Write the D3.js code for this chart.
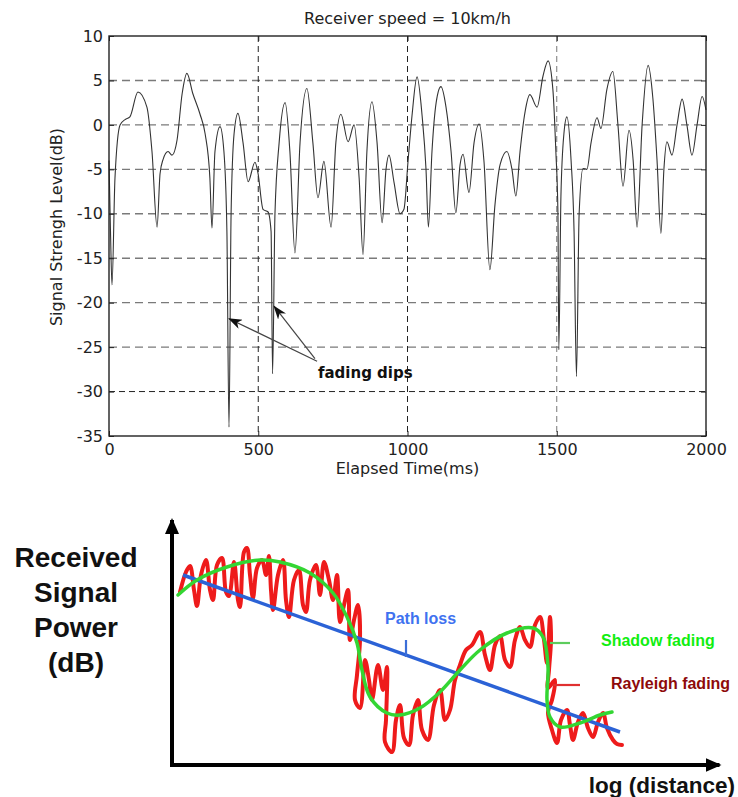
<!DOCTYPE html>
<html>
<head>
<meta charset="utf-8">
<script src="https://cdn.jsdelivr.net/npm/d3@7"></script>
<style>
  body { margin: 0; background: #fff; }
  svg { display: block; font-family: "Liberation Sans", Arial, sans-serif; }
</style>
</head>
<body>
<div class="chart-container"></div>
<script>
// top chart: measured signal level vs elapsed time
var times = [0, 5, 10, 20, 37, 54, 70, 97, 127, 144, 161, 171, 181, 198, 211, 228, 245, 261, 281, 305,
    322, 338, 345, 355, 372, 385, 395, 402, 409, 419, 432, 449, 466, 489, 499, 516, 533, 543, 548, 556,
    570, 590, 606, 623, 640, 663, 683, 700, 720, 744, 760, 777, 801, 821, 838, 851, 864, 881, 898, 915,
    928, 938, 955, 975, 988, 1002, 1015, 1032, 1049, 1062, 1070, 1082, 1096, 1112, 1129, 1146, 1162, 1176, 1186, 1206,
    1223, 1240, 1256, 1276, 1293, 1310, 1333, 1350, 1363, 1377, 1394, 1410, 1434, 1454, 1471, 1487, 1497, 1504, 1507, 1514,
    1524, 1534, 1548, 1558, 1566, 1575, 1588, 1601, 1615, 1635, 1648, 1668, 1688, 1705, 1722, 1742, 1756, 1769, 1786, 1806,
    1822, 1836, 1849, 1859, 1869, 1886, 1903, 1920, 1936, 1953, 1970, 1987, 2000];
var levels = [-4, -12, -18, -6, 0, 0.6, 0.9, 3.7, 2, -3, -11.5, -5.5, -3.9, -3.0, -3.4, -1.7, 3.5, 5.8, 3.5, 1.2,
    -1, -6, -11.6, -3, -0.2, -3, -12, -34, -10, -1, 1.3, -2, -6.4, -4.2, -5.4, -9.5, -9.8, -12, -28, -10,
    -2, 2.5, -3, -14.4, -2, 4.1, -2, -8.2, -4.1, -11.5, -2, 1.2, -1.9, 0, -6, -14.6, -3, 2.6, -2, -11,
    -5, -3.4, -6.5, -10, -9.5, -4, 1, 5.4, 1, -5, -11.5, -3, 2.5, 4.3, 2, -3, -9.9, -4.5, -3.3, -7.6,
    -2, 0.1, -4, -16.3, -9, -4.5, -3, -5, -8, -3, 1.5, 3.4, 2.0, 5.5, 7.2, 4, -3, -10, -25.3, -8,
    -1, 0.9, -4, -12, -28.3, -10, -4.9, -5, -2, 0.8, -0.4, 4, 6.0, 0, -6.9, -0.6, -4, -11.5, 0, 6.7,
    3, -4, -12.2, -5, -1.9, -3.4, 0, 2.9, 0, -3.4, 0, 3.2, 1.7];
var xTicks = [0, 500, 1000, 1500, 2000];
var yTicks = [10, 5, 0, -5, -10, -15, -20, -25, -30, -35];

// bottom schematic (arbitrary units: log distance 0..110, power 0..49)
var pathLoss = [[2.2, 38], [89.6, 6.6]];
var shadow = [[1.2, 34], [5, 37], [11, 39.6], [17.6, 41], [21.6, 40.6], [27.6, 38.4], [32.2, 34.4], [35, 29.6],
    [37, 24.4], [38, 19], [39.6, 13.6], [43, 10.4], [45.6, 10], [49.6, 11.4], [53.6, 14.6], [57.6, 19],
    [61.6, 23], [67, 26.4], [72.2, 27.4], [74.2, 25.6], [75.2, 19.6], [75, 13], [75.6, 9.6], [77.6, 7.6],
    [81.6, 8.4], [85.6, 10], [88, 10.6]];
var rayleigh = [[1.6, 34.6], [2.8, 38.6], [3.6, 39.8], [4.4, 35], [5, 31.8], [5.8, 38], [6.8, 41], [7.6, 35],
    [8.2, 33], [9, 40], [10, 41.4], [10.8, 34.6], [11.4, 33.8], [12.4, 40.6], [13.2, 33], [13.6, 31.6],
    [14.4, 42.6], [15, 43.4], [15.6, 38], [16.2, 33.4], [17, 39.4], [18, 41], [18.8, 38], [19.4, 41.8],
    [19.8, 35], [20.2, 31], [21.2, 38], [22.2, 41], [22.8, 33], [23.4, 29.6], [24.4, 37], [25.4, 39],
    [26.2, 32], [26.8, 30.6], [27.6, 37], [28.8, 40], [29.6, 34], [30.4, 40.6], [31.4, 37], [32.2, 33],
    [33, 38], [33.6, 28.6], [34.4, 32], [35.2, 35], [35.6, 25], [36.4, 29], [37.2, 32], [37.6, 25],
    [37, 18], [36.6, 13], [37.6, 11.4], [38.6, 21], [39.4, 17], [40, 13], [41.2, 20], [42.2, 15],
    [43, 19.6], [42.8, 9], [42.6, 4.6], [44, 2.6], [44.8, 9], [45.6, 12], [46.4, 5.4], [47.4, 4],
    [48.2, 10], [49.2, 13], [50, 7], [51.2, 5], [52.4, 12], [53.6, 15], [54.6, 9], [55.6, 11],
    [56.6, 17], [57.6, 20], [58.8, 23], [60, 24], [61.6, 26.6], [62.6, 22], [63.6, 19], [64.6, 24],
    [65.6, 25.8], [66.6, 21], [67.6, 19.6], [68.6, 25], [69.6, 27.6], [70.6, 25], [71.6, 23.6], [72.6, 28],
    [73.6, 29.6], [74.4, 25], [75, 20.4], [75.6, 29.6], [75.8, 25], [75.4, 19], [75.2, 15.4], [76.6, 17],
    [76, 13], [75.2, 10.6], [76, 7], [77, 4.4], [77.8, 9], [79, 11], [79.6, 8], [80.2, 5],
    [81.2, 8.6], [82.2, 10.4], [83.2, 7.4], [84.2, 5.6], [85.2, 8.6], [86.2, 10.4], [87, 7.4], [88.2, 5],
    [89, 4.2], [90, 4]];

draw();

function draw() {
    var svg = d3.select('.chart-container').append('svg')
        .attr('width', 738)
        .attr('height', 797);

    var defs = svg.append('defs');
    defs.append('marker')
        .attr('id', 'dipArrow')
        .attr('markerUnits', 'userSpaceOnUse')
        .attr('viewBox', '0 0 14 10')
        .attr('refX', 13).attr('refY', 5)
        .attr('markerWidth', 14).attr('markerHeight', 10)
        .attr('orient', 'auto')
        .append('path').attr('d', 'M0,0 L14,5 L0,10 L4,5 z').attr('fill', '#111');
    defs.append('marker')
        .attr('id', 'axisArrow')
        .attr('markerUnits', 'userSpaceOnUse')
        .attr('viewBox', '0 0 16 14')
        .attr('refX', 14).attr('refY', 7)
        .attr('markerWidth', 16).attr('markerHeight', 14)
        .attr('orient', 'auto')
        .append('path').attr('d', 'M0,0 L16,7 L0,14 z').attr('fill', '#000');

    /* ---------- top: signal strength vs time ---------- */
    var x = d3.scaleLinear().domain([0, 2000]).range([109, 706]);
    var y = d3.scaleLinear().domain([-35, 10]).range([436, 36]);
    var top = svg.append('g').attr('font-family', '"DejaVu Sans", sans-serif');
    var plain = function (d) { return String(d); }; // keep ascii minus, no thousands comma

    // horizontal dashed grid
    top.selectAll('.hgrid')
        .data(yTicks.filter(function (d) { return d > -35 && d < 10; }))
        .enter().append('line')
        .attr('x1', x(0)).attr('x2', x(2000))
        .attr('y1', function (d) { return y(d); })
        .attr('y2', function (d) { return y(d); })
        .attr('stroke', function (d) { return d === -30 ? '#222' : '#7a7a7a'; })
        .attr('stroke-width', function (d) { return d === -30 ? 1 : 1.4; })
        .attr('stroke-dasharray', function (d) { return d === -30 ? '6,4' : '8,5'; });

    // vertical dashed grid
    top.selectAll('.vgrid')
        .data(xTicks.filter(function (d) { return d > 0 && d < 2000; }))
        .enter().append('line')
        .attr('y1', y(10)).attr('y2', y(-35))
        .attr('x1', function (d) { return x(d); })
        .attr('x2', function (d) { return x(d); })
        .attr('stroke', function (d) { return d === 1500 ? '#777' : '#222'; })
        .attr('stroke-width', 1)
        .attr('stroke-dasharray', '6,4');

    // signal trace
    var line = d3.line()
        .x(function (d, i) { return x(times[i]); })
        .y(function (d) { return y(d); })
        .curve(d3.curveMonotoneX);
    top.append('path')
        .datum(levels)
        .attr('d', line)
        .attr('fill', 'none')
        .attr('stroke', '#333')
        .attr('stroke-width', 1.1);

    // axes with inward ticks (matlab style)
    var left = top.append('g').attr('transform', 'translate(' + x(0) + ',0)')
        .call(d3.axisLeft(y).tickValues(yTicks).tickFormat(plain).tickSize(-5).tickPadding(6));
    var bottom = top.append('g').attr('transform', 'translate(0,' + y(-35) + ')')
        .call(d3.axisBottom(x).tickValues(xTicks).tickFormat(plain).tickSize(-5).tickPadding(8));
    top.append('g').attr('transform', 'translate(' + x(2000) + ',0)')
        .call(d3.axisRight(y).tickValues(yTicks).tickSize(-5).tickFormat(''));
    top.append('g').attr('transform', 'translate(0,' + y(10) + ')')
        .call(d3.axisTop(x).tickValues(xTicks).tickSize(-5).tickFormat(''));
    top.selectAll('.domain').remove();
    top.selectAll('.tick line').attr('stroke', '#222');
    [left, bottom].forEach(function (g) {
        g.selectAll('text')
            .attr('font-family', '"DejaVu Sans", sans-serif')
            .attr('font-size', 16)
            .attr('fill', '#222');
    });

    top.append('rect')
        .attr('x', x(0)).attr('y', y(10))
        .attr('width', x(2000) - x(0)).attr('height', y(-35) - y(10))
        .attr('fill', 'none')
        .attr('stroke', '#222')
        .attr('stroke-width', 1.4);

    top.append('text')
        .attr('x', (x(0) + x(2000)) / 2).attr('y', 24)
        .attr('text-anchor', 'middle')
        .attr('font-size', 16).attr('fill', '#222')
        .text('Receiver speed = 10km/h');
    top.append('text')
        .attr('x', (x(0) + x(2000)) / 2).attr('y', 474)
        .attr('text-anchor', 'middle')
        .attr('font-size', 16).attr('fill', '#222')
        .text('Elapsed Time(ms)');
    top.append('text')
        .attr('transform', 'translate(62,227) rotate(-90)')
        .attr('text-anchor', 'middle')
        .attr('font-size', 16).attr('fill', '#222')
        .text('Signal Strengh Level(dB)');

    // fading dips annotation
    var arrows = [[[697, -26.6], [402, -21.8]], [[690, -26.3], [553, -20.4]]];
    top.selectAll('.dip-arrow')
        .data(arrows)
        .enter().append('line')
        .attr('x1', function (d) { return x(d[0][0]); })
        .attr('y1', function (d) { return y(d[0][1]); })
        .attr('x2', function (d) { return x(d[1][0]); })
        .attr('y2', function (d) { return y(d[1][1]); })
        .attr('stroke', '#444')
        .attr('stroke-width', 1.2)
        .attr('marker-end', 'url(#dipArrow)');
    top.append('text')
        .attr('x', x(700)).attr('y', y(-28.5))
        .attr('font-size', 15).attr('font-weight', 'bold').attr('fill', '#111')
        .text('fading dips');

    /* ---------- bottom: path loss / shadowing / rayleigh sketch ---------- */
    var sx = d3.scaleLinear().domain([0, 110]).range([172, 722]);
    var sy = d3.scaleLinear().domain([0, 49]).range([765, 520]);
    var sk = svg.append('g');

    var sline = d3.line()
        .x(function (d) { return sx(d[0]); })
        .y(function (d) { return sy(d[1]); });

    sk.append('path')
        .datum(rayleigh)
        .attr('d', sline.curve(d3.curveCatmullRom.alpha(0.5)))
        .attr('fill', 'none')
        .attr('stroke', '#ee1b1b')
        .attr('stroke-width', 4)
        .attr('stroke-linejoin', 'round')
        .attr('stroke-linecap', 'round');
    sk.append('path')
        .datum(pathLoss)
        .attr('d', sline.curve(d3.curveLinear))
        .attr('fill', 'none')
        .attr('stroke', '#2b62d6')
        .attr('stroke-width', 3.5);
    sk.append('path')
        .datum(shadow)
        .attr('d', sline.curve(d3.curveCatmullRom.alpha(0.5)))
        .attr('fill', 'none')
        .attr('stroke', '#33d633')
        .attr('stroke-width', 3.5)
        .attr('stroke-linecap', 'round');

    // axes arrows
    sk.append('line')
        .attr('x1', sx(0)).attr('y1', sy(0) + 2)
        .attr('x2', sx(0)).attr('y2', sy(49))
        .attr('stroke', '#000').attr('stroke-width', 4)
        .attr('marker-end', 'url(#axisArrow)');
    sk.append('line')
        .attr('x1', sx(0) - 2).attr('y1', sy(0))
        .attr('x2', sx(109.5)).attr('y2', sy(0))
        .attr('stroke', '#000').attr('stroke-width', 4)
        .attr('marker-end', 'url(#axisArrow)');

    // leader lines
    var leaders = [
        { p: [[46.8, 25], [46.8, 21.6]], c: '#3b6ed8' },
        { p: [[75.6, 24.4], [79.6, 24.4]], c: '#5ccc5c' },
        { p: [[76.2, 16], [81.6, 16]], c: '#e03030' }
    ];
    sk.selectAll('.leader')
        .data(leaders)
        .enter().append('path')
        .attr('d', function (d) { return sline.curve(d3.curveLinear)(d.p); })
        .attr('stroke', function (d) { return d.c; })
        .attr('stroke-width', 2.2)
        .attr('fill', 'none');

    var labels = [
        { t: 'Path loss', u: 42.6, v: 28.2, c: '#3f72f0' },
        { t: 'Shadow fading', u: 85.8, v: 23.8, c: '#11ee11' },
        { t: 'Rayleigh fading', u: 87.8, v: 15.2, c: '#8e0a0a' }
    ];
    sk.selectAll('.lbl')
        .data(labels)
        .enter().append('text')
        .attr('x', function (d) { return sx(d.u); })
        .attr('y', function (d) { return sy(d.v); })
        .attr('fill', function (d) { return d.c; })
        .attr('font-size', 16)
        .attr('font-weight', 'bold')
        .text(function (d) { return d.t; });

    sk.selectAll('.ylbl')
        .data(['Received', 'Signal', 'Power', '(dB)'])
        .enter().append('text')
        .attr('x', 76)
        .attr('y', function (d, i) { return 567 + i * 35; })
        .attr('text-anchor', 'middle')
        .attr('font-size', 28)
        .attr('font-weight', 'bold')
        .attr('fill', '#111')
        .text(function (d) { return d; });
    sk.append('text')
        .attr('x', 735).attr('y', 793)
        .attr('text-anchor', 'end')
        .attr('font-size', 22.5)
        .attr('font-weight', 'bold')
        .attr('fill', '#111')
        .text('log (distance)');
}
</script>
</body>
</html>
